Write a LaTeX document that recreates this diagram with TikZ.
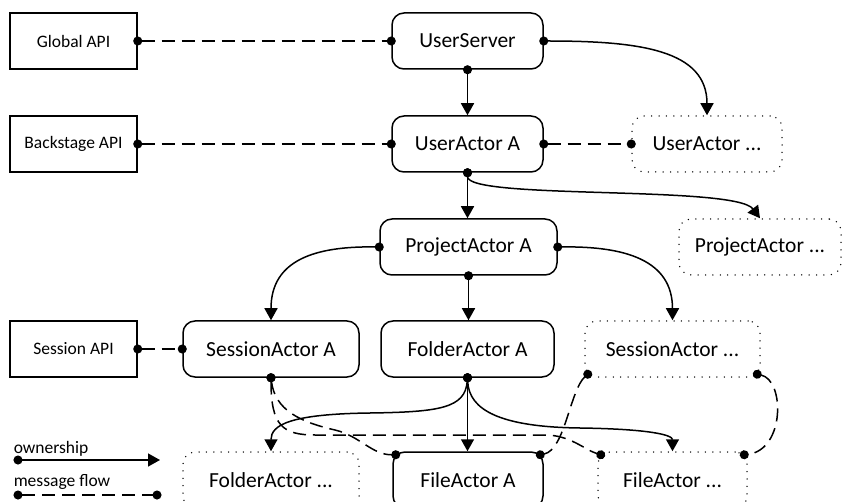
\documentclass[tikz,border=0pt]{standalone}
\usepackage{fontspec}
\setmainfont{Carlito}
\usetikzlibrary{arrows.meta,calc}
\begin{document}
\begin{tikzpicture}[x=1pt,y=-1pt,
  line width=1.5pt,
  box/.style={draw, minimum height=56pt, inner sep=0pt, font=\fontsize{21.5}{24}\selectfont},
  api/.style={box, rectangle, minimum width=127pt, font=\fontsize{17.5}{20}\selectfont},
  actor/.style={box, rounded corners=12pt},
  more/.style={box, rounded corners=12pt, line width=1.5pt, line cap=round, dash pattern=on 0pt off 7.4pt},
  legendtext/.style={inner sep=0pt, font=\fontsize{17.5}{20}\selectfont},
  own/.style={{Circle[length=9pt]}-{Triangle[length=12pt,width=13pt]}, shorten <=-4.5pt},
  msg/.style={{Circle[length=9pt]}-{Circle[length=9pt]}, shorten <=-4.5pt, shorten >=-4.5pt,
    dash pattern=on 13pt off 7pt},
]
\useasboundingbox (0,0) rectangle (848,502);

% interfaces
\node[api] (ga)   at (73.5,41)  {Global API};
\node[api] (ba)   at (73.5,144) {Backstage API};
\node[api] (sapi) at (73.5,349) {Session API};

% actors
\node[actor, minimum width=151pt] (us) at (467.5,41)  {UserServer};
\node[actor, minimum width=151pt] (ua) at (467.5,144) {UserActor A};
\node[more,  minimum width=150pt] (um) at (707,144)   {UserActor ...};
\node[actor, minimum width=177pt] (pa) at (468.5,247) {ProjectActor A};
\node[more,  minimum width=162pt] (pm) at (760,247)   {ProjectActor ...};
\node[actor, minimum width=176pt] (sa) at (271,349)   {SessionActor A};
\node[actor, minimum width=173pt] (fo) at (467.5,349) {FolderActor A};
\node[more,  minimum width=175pt] (sm) at (672.5,349) {SessionActor ...};
\node[more,  minimum width=176pt] (fm) at (271,480)   {FolderActor ...};
\node[actor, minimum width=150pt] (fa) at (468,480)   {FileActor A};
\node[more,  minimum width=149pt] (xm) at (672.5,480) {FileActor ...};

% points on the rounded corners
\coordinate (fa-nw) at ($(fa.north west)+(3.5pt,-3.5pt)$);
\coordinate (fa-ne) at ($(fa.north east)+(-3.5pt,-3.5pt)$);
\coordinate (xm-nw) at ($(xm.north west)+(3.5pt,-3.5pt)$);
\coordinate (xm-ne) at ($(xm.north east)+(-3.5pt,-3.5pt)$);
\coordinate (sm-sw) at ($(sm.south west)+(3.5pt,3.5pt)$);
\coordinate (sm-se) at ($(sm.south east)+(-3.5pt,3.5pt)$);

% ownership
\draw[own] (us.south) -- (ua.north);
\draw[own] (us.east) .. controls (640,41) and (707,50) .. (um.north);
\draw[own] (ua.south) -- (ua.south |- pa.north);
\draw[own] (ua.south) .. controls (467,200) and (735,185) .. (pm.north);
\draw[own] (pa.west) .. controls (315,246) and (271,260) .. (sa.north);
\draw[own] (pa.east) .. controls (625,246) and (672.5,260) .. (sm.north);
\draw[own] (pa.south) -- (pa.south |- fo.north);
\draw[own] (fo.south) .. controls (465,408) and (440,412) .. (370,413)
  .. controls (290,414) and (271,425) .. (fm.north);
\draw[own] (fo.south) -- (fo.south |- fa.north);
\draw[own] (fo.south) .. controls (469,410) and (500,427) .. (580,428)
  .. controls (650,429) and (672.5,435) .. (xm.north);

% message flow
\draw[msg] (ga.east) -- (us.west);
\draw[msg] (ba.east) -- (ua.west);
\draw[msg] (ua.east) -- (um.west);
\draw[msg] (sapi.east) -- (sa.west);
\draw[msg] (sa.south) .. controls (271,425) and (282,435) .. (315,435) -- (545,435)
  .. controls (570,435) and (585,450) .. (xm-nw);
\draw[msg] (sa.south) .. controls (275,410) and (300,422) .. (335,430)
  .. controls (360,436) and (372,455) .. (fa-nw);
\draw[msg] (sm-sw) .. controls (570,390) and (565,450) .. (fa-ne);
\draw[msg] (sm-se) .. controls (785,380) and (785,450) .. (xm-ne);

% legend
\node[legendtext, anchor=base west] (lo) at (13,453) {ownership};
\coordinate (lo1) at (18,460);
\coordinate (lo2) at (160,460);
\draw[own] (lo1) -- (lo2);
\node[legendtext, anchor=base west] (lm) at (13,486) {message flow};
\coordinate (lm1) at (18,495);
\coordinate (lm2) at (157,495);
\draw[msg] (lm1) -- (lm2);
\end{tikzpicture}
\end{document}
